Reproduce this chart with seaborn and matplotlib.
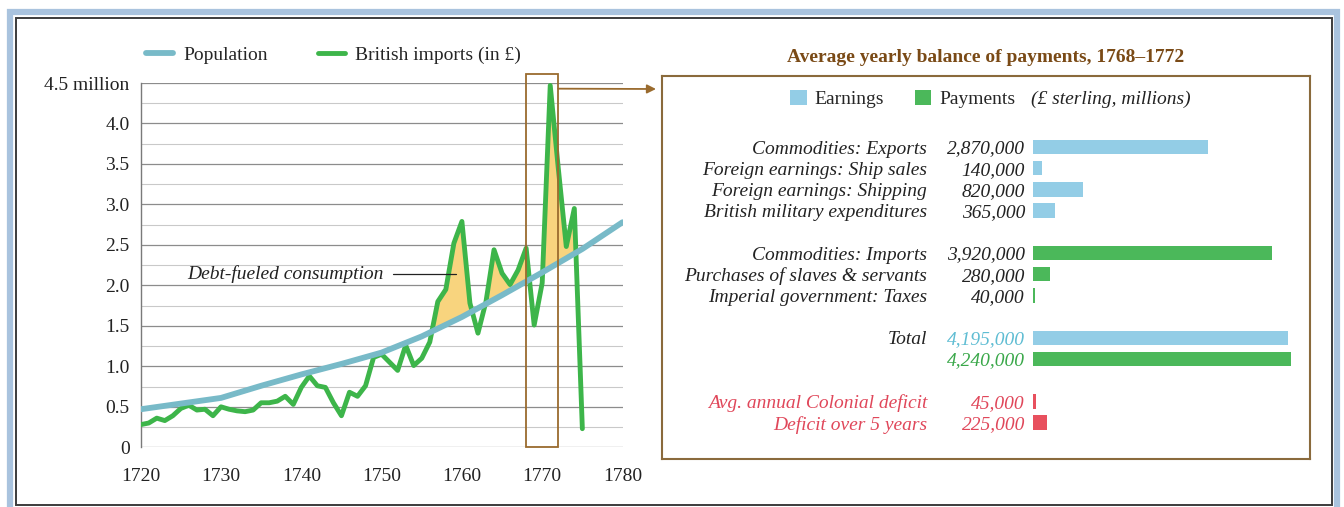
import numpy as np
import pandas as pd
import matplotlib
matplotlib.use("Agg")
import matplotlib.pyplot as plt
import seaborn as sns
from matplotlib.patches import Rectangle, Patch
from matplotlib.lines import Line2D

# ---------------- data ----------------
import_years = list(range(1720, 1776))
import_values = [0.28, 0.30, 0.36, 0.33, 0.39, 0.48, 0.52, 0.46, 0.47, 0.39,
                 0.50, 0.47, 0.45, 0.44, 0.46, 0.55, 0.55, 0.57, 0.63, 0.53,
                 0.74, 0.88, 0.76, 0.74, 0.55, 0.39, 0.68, 0.63, 0.76, 1.11,
                 1.15, 1.05, 0.95, 1.26, 1.01, 1.10, 1.30, 1.80, 1.95, 2.52,
                 2.79, 1.78, 1.41, 1.80, 2.44, 2.15, 2.01, 2.19, 2.46, 1.51,
                 2.03, 4.47, 3.45, 2.48, 2.95, 0.23]
pop_years = [1720, 1725, 1730, 1735, 1740, 1745, 1750, 1755, 1760, 1765, 1770, 1775, 1780]
pop_values = [0.47, 0.54, 0.61, 0.76, 0.90, 1.03, 1.17, 1.37, 1.61, 1.88, 2.16, 2.45, 2.78]
ytick_labels = ["0", "0.5", "1.0", "1.5", "2.0", "2.5", "3.0", "3.5", "4.0", "4.5 million"]

earn_labels = ["Commodities: Exports", "Foreign earnings: Ship sales",
               "Foreign earnings: Shipping", "British military expenditures"]
earn_values = [2870000, 140000, 820000, 365000]
pay_labels = ["Commodities: Imports", "Purchases of slaves & servants",
              "Imperial government: Taxes"]
pay_values = [3920000, 280000, 40000]
total_label = "Total"
total_values = [4195000, 4240000]
deficit_labels = ["Avg. annual Colonial deficit", "Deficit over 5 years"]
deficit_values = [45000, 225000]

# ---------------- style ----------------
sns.set_theme(style="white")
plt.rcParams['font.family'] = ['Liberation Serif', 'DejaVu Serif']
GREEN = '#3db54a'
BLUE_LINE = '#78bac8'
FILL = '#f8d47e'
BROWN = '#9a6b2e'
EARN = '#93cde6'
PAY = '#4bb85a'
RED = '#e8505e'
FS = 14

W, H = 1344, 507
fig = plt.figure(figsize=(W / 100, H / 100), dpi=100)
fig.patch.set_facecolor('white')

def fx(px):
    return px / W

def fy(py):
    return 1 - py / H

# ---------------- left chart ----------------
ax = fig.add_axes([fx(140.7), fy(447.3), fx(622.5) - fx(140.7), fy(83) - fy(447.3)])
ax.set_xlim(1720, 1780)
ax.set_ylim(0, 4.5)
ax.set_yticks(np.arange(0, 4.51, 0.5))
ax.set_yticklabels(ytick_labels)
ax.set_yticks(np.arange(0.25, 4.5, 0.5), minor=True)
ax.set_xticks(range(1720, 1781, 10))
ax.grid(axis='y', which='major', color='#8c8c8c', lw=0.9)
ax.grid(axis='y', which='minor', color='#c9c9c9', lw=0.8)
ax.grid(axis='x', visible=False)
for s in ['top', 'right', 'bottom']:
    ax.spines[s].set_visible(False)
ax.spines['left'].set_color('#7a7a7a')
ax.spines['left'].set_linewidth(1.0)
ax.tick_params(axis='y', which='both', length=0, pad=8, labelsize=FS, colors='#222222')
ax.tick_params(axis='x', length=10, width=1, color='#8a8a8a', direction='out', pad=5,
               labelsize=FS, labelcolor='#222222')
ax.set_axisbelow(True)

yrs = np.array(import_years, dtype=float)
imp = np.array(import_values)
pop_i = np.interp(yrs, pop_years, pop_values)
ax.fill_between(yrs, pop_i, imp, where=(imp > pop_i) & (yrs >= 1755), interpolate=True,
                color=FILL, lw=0, zorder=1)

sns.lineplot(x=import_years, y=import_values, ax=ax, color=GREEN, lw=3.5, zorder=3)
sns.lineplot(x=pop_years, y=pop_values, ax=ax, color=BLUE_LINE, lw=4.2, zorder=4)
ax.set_xlabel('')
ax.set_ylabel('')

# highlight box 1768-1772 and arrow
ax.add_patch(Rectangle((1768, 0), 4, 4.61, fill=False, ec=BROWN, lw=1.3,
                       clip_on=False, zorder=5))
ax.annotate('', xy=(fx(656), fy(89)), xycoords='figure fraction',
            xytext=(1772, 4.43), textcoords='data',
            arrowprops=dict(arrowstyle='-|>', color=BROWN, lw=1.3,
                            shrinkA=0, shrinkB=0, mutation_scale=13),
            annotation_clip=False)

ax.text(1750.2, 2.14, 'Debt-fueled consumption', ha='right', va='center',
        style='italic', fontsize=FS, color='#222222')
ax.plot([1751.4, 1759.3], [2.14, 2.14], color='#222222', lw=0.9, zorder=6)

handles = [Line2D([], [], color=BLUE_LINE, lw=4.2), Line2D([], [], color=GREEN, lw=3.5)]
fig.legend(handles, ['Population', 'British imports (in £)'], loc='center left',
           bbox_to_anchor=(fx(146), fy(55)), bbox_transform=fig.transFigure,
           ncol=2, frameon=False, fontsize=FS, handlelength=1.4, handletextpad=0.5,
           columnspacing=2.6, borderpad=0, borderaxespad=0)

# ---------------- right panel ----------------
ax2 = fig.add_axes([fx(662), fy(459), fx(1310) - fx(662), fy(76) - fy(459)])
rows = []
pos = 3.35
groups = [
    (earn_values, ['Earnings'] * len(earn_values)),
    (pay_values, ['Payments'] * len(pay_values)),
    (total_values, ['Earnings', 'Payments']),
    (deficit_values, ['Deficit'] * len(deficit_values)),
]
positions = []
for vals, kinds in groups:
    gp = []
    for v, k in zip(vals, kinds):
        rows.append({'pos': pos, 'value': v / 1e6, 'kind': k})
        gp.append(pos)
        pos += 1
    positions.append(gp)
    pos += 1
df = pd.DataFrame(rows)
sns.barplot(data=df, x='value', y='pos', hue='kind', orient='h', native_scale=True,
            palette={'Earnings': EARN, 'Payments': PAY, 'Deficit': RED},
            dodge=False, width=0.68, errorbar=None, legend=False, ax=ax2,
            linewidth=0, saturation=1)
px_per_m = 60.9
ax2.set_xlim((662 - 1033) / px_per_m, (1310 - 1033) / px_per_m)
ax2.set_ylim((459 - 76) / 21.2, 0)
ax2.set_xticks([])
ax2.set_yticks([])
ax2.set_xlabel('')
ax2.set_ylabel('')
ax2.set_facecolor('white')
for s in ax2.spines.values():
    s.set_color('#8a6a3c')
    s.set_linewidth(1.5)
    s.set_visible(True)

lab_x = (927 - 1033) / px_per_m
val_x = (1025 - 1033) / px_per_m
TV = 'center_baseline'

def fmt(v):
    return f"{v:,}"

for lab, v, p in zip(earn_labels, earn_values, positions[0]):
    ax2.text(lab_x, p, lab, ha='right', va=TV, style='italic', fontsize=FS, color='#222222')
    ax2.text(val_x, p, fmt(v), ha='right', va=TV, style='italic', fontsize=FS, color='#222222')
for lab, v, p in zip(pay_labels, pay_values, positions[1]):
    ax2.text(lab_x, p, lab, ha='right', va=TV, style='italic', fontsize=FS, color='#222222')
    ax2.text(val_x, p, fmt(v), ha='right', va=TV, style='italic', fontsize=FS, color='#222222')
ax2.text(lab_x, positions[2][0], total_label, ha='right', va=TV, style='italic',
         fontsize=FS, color='#222222')
for v, p, c in zip(total_values, positions[2], ['#5fbdd3', '#3aa84a']):
    ax2.text(val_x, p, fmt(v), ha='right', va=TV, style='italic', fontsize=FS, color=c)
for lab, v, p in zip(deficit_labels, deficit_values, positions[3]):
    ax2.text(lab_x, p, lab, ha='right', va=TV, style='italic', fontsize=FS, color='#e0475a')
    ax2.text(val_x, p, fmt(v), ha='right', va=TV, style='italic', fontsize=FS, color='#e0475a')

leg_h = [Patch(facecolor=EARN, edgecolor='none'), Patch(facecolor=PAY, edgecolor='none')]
fig.legend(leg_h, ['Earnings', 'Payments'], loc='center left',
           bbox_to_anchor=(fx(790), fy(99)), bbox_transform=fig.transFigure,
           ncol=2, frameon=False, fontsize=FS, handlelength=0.85, handleheight=0.85,
           handletextpad=0.4, columnspacing=1.6, borderpad=0, borderaxespad=0)
fig.text(fx(1031), fy(99), '(£ sterling, millions)', ha='left', va='center',
         style='italic', fontsize=FS, color='#222222')

fig.text(fx(986), fy(57), 'Average yearly balance of payments, 1768–1772', ha='center',
         va='center', fontweight='bold', fontsize=FS, color='#7a4a16')

# outer page frame: light blue band + dark inner rule
fig.add_artist(Rectangle((fx(10), fy(520)), fx(1337) - fx(10), fy(12) - fy(520),
                         transform=fig.transFigure, fill=False, ec='#a9c3de', lw=4.5))
fig.add_artist(Rectangle((fx(15.5), fy(505)), fx(1332) - fx(15.5), fy(17.5) - fy(505),
                         transform=fig.transFigure, fill=False, ec='#3c3c3c', lw=1.4))

fig.savefig('out.png', dpi=100)
